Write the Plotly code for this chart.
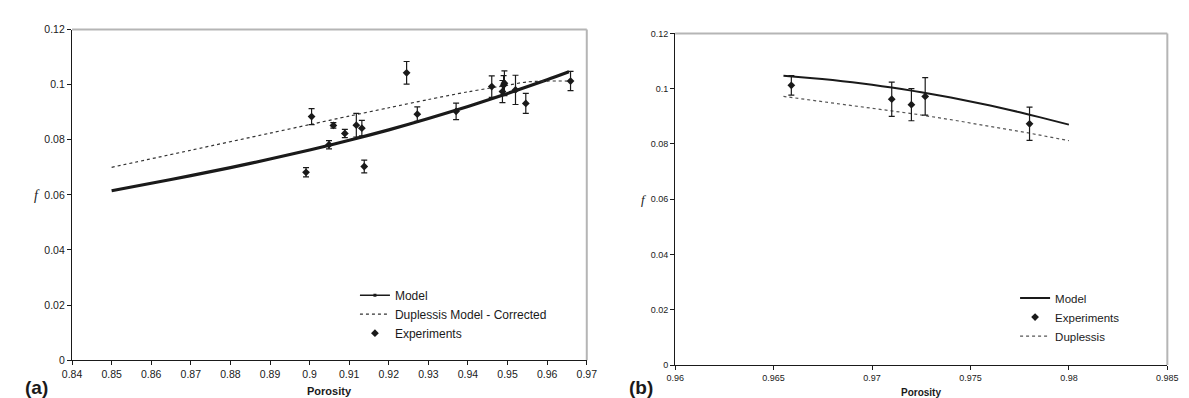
import plotly.graph_objects as go

# ---------------- data: panel (a) ----------------
a_model_x = [0.85, 0.86, 0.87, 0.88, 0.89, 0.90, 0.91, 0.92, 0.93, 0.94, 0.95, 0.96, 0.9655]
a_model_y = [0.0615, 0.0642, 0.0670, 0.0699, 0.0730, 0.0763, 0.0798, 0.0836, 0.0877, 0.0921, 0.0968, 0.1018, 0.1047]

a_dup_x = [0.85, 0.87, 0.89, 0.90, 0.91, 0.92, 0.93, 0.94, 0.95, 0.955, 0.96, 0.966]
a_dup_y = [0.0700, 0.0762, 0.0824, 0.0855, 0.0886, 0.0916, 0.0946, 0.0974, 0.0998, 0.1010, 0.1013, 0.1013]

a_exp_x = [0.8991, 0.9005, 0.9049, 0.9060, 0.9089, 0.9118, 0.9132, 0.9138, 0.9245,
           0.9272, 0.9370, 0.9460, 0.9487, 0.9490, 0.9492, 0.9520, 0.9546, 0.9659]
a_exp_y = [0.0682, 0.0884, 0.0782, 0.0852, 0.0823, 0.0853, 0.0842, 0.0703, 0.1043,
           0.0893, 0.0903, 0.0993, 0.0975, 0.0998, 0.1005, 0.0981, 0.0932, 0.1013]
a_exp_err = [0.0017, 0.0029, 0.0015, 0.0010, 0.0015, 0.0043, 0.0028, 0.0023, 0.0041,
             0.0026, 0.0030, 0.0039, 0.0040, 0.0035, 0.0045, 0.0053, 0.0036, 0.0035]

# ---------------- data: panel (b) ----------------
b_model_x = [0.9655, 0.967, 0.968, 0.969, 0.970, 0.971, 0.972, 0.973, 0.974, 0.975,
             0.976, 0.977, 0.978, 0.979, 0.980]
b_model_y = [0.1047, 0.1038, 0.1031, 0.1023, 0.1014, 0.1004, 0.0993, 0.0981, 0.0968, 0.0954,
             0.0939, 0.0923, 0.0906, 0.0888, 0.0870]

b_dup_x = [0.9655, 0.968, 0.970, 0.972, 0.974, 0.976, 0.978, 0.980]
b_dup_y = [0.0972, 0.0948, 0.0929, 0.0910, 0.0888, 0.0864, 0.0839, 0.0812]

b_exp_x = [0.9659, 0.9710, 0.9720, 0.9727, 0.9780]
b_exp_y = [0.1012, 0.0962, 0.0942, 0.0972, 0.0873]
b_exp_err = [0.0035, 0.0062, 0.0058, 0.0068, 0.0060]

# ---------------- ticks ----------------
a_xticks = [0.84, 0.85, 0.86, 0.87, 0.88, 0.89, 0.90, 0.91, 0.92, 0.93, 0.94, 0.95, 0.96, 0.97]
a_xtext = ["0.84", "0.85", "0.86", "0.87", "0.88", "0.89", "0.9", "0.91", "0.92", "0.93", "0.94", "0.95", "0.96", "0.97"]
b_xticks = [0.96, 0.965, 0.97, 0.975, 0.98, 0.985]
b_xtext = ["0.96", "0.965", "0.97", "0.975", "0.98", "0.985"]
yticks = [0, 0.02, 0.04, 0.06, 0.08, 0.1, 0.12]
ytext = ["0", "0.02", "0.04", "0.06", "0.08", "0.1", "0.12"]

W, H = 1189, 398
FONT = "Liberation Sans, Arial, sans-serif"
BLACK = "#1a1a1a"

def px_x(p):
    return p / W

def px_y(p):
    return 1 - p / H

fig = go.Figure()

# ---- panel (a) traces ----
fig.add_trace(go.Scatter(x=a_model_x, y=a_model_y, mode="lines", xaxis="x", yaxis="y",
                         line=dict(color=BLACK, width=3.2, shape="spline", smoothing=0.8), showlegend=False))
fig.add_trace(go.Scatter(x=a_dup_x, y=a_dup_y, mode="lines", xaxis="x", yaxis="y",
                         line=dict(color="#333333", width=1.2, dash="dot", shape="spline", smoothing=0.8),
                         showlegend=False))
fig.add_trace(go.Scatter(x=a_exp_x, y=a_exp_y, mode="markers", xaxis="x", yaxis="y",
                         marker=dict(symbol="diamond", size=6, color=BLACK),
                         error_y=dict(type="data", array=a_exp_err, visible=True, color=BLACK, thickness=1.2, width=3),
                         showlegend=False))
# legend (a)
fig.add_trace(go.Scatter(x=[None], y=[None], mode="lines+markers", name="Model", legend="legend",
                         line=dict(color=BLACK, width=1.6), marker=dict(symbol="square", size=3, color=BLACK)))
fig.add_trace(go.Scatter(x=[None], y=[None], mode="lines", name="Duplessis Model - Corrected", legend="legend",
                         line=dict(color="#333333", width=1.2, dash="dot")))
fig.add_trace(go.Scatter(x=[None], y=[None], mode="markers", name="Experiments", legend="legend",
                         marker=dict(symbol="diamond", size=6, color=BLACK)))

# ---- panel (b) traces ----
fig.add_trace(go.Scatter(x=b_model_x, y=b_model_y, mode="lines", xaxis="x2", yaxis="y2",
                         line=dict(color=BLACK, width=2, shape="spline", smoothing=0.8), showlegend=False))
fig.add_trace(go.Scatter(x=b_dup_x, y=b_dup_y, mode="lines", xaxis="x2", yaxis="y2",
                         line=dict(color="#555555", width=1.2, dash="dot"), showlegend=False))
fig.add_trace(go.Scatter(x=b_exp_x, y=b_exp_y, mode="markers", xaxis="x2", yaxis="y2",
                         marker=dict(symbol="diamond", size=6, color=BLACK),
                         error_y=dict(type="data", array=b_exp_err, visible=True, color=BLACK, thickness=1.2, width=3),
                         showlegend=False))
# legend (b)
fig.add_trace(go.Scatter(x=[None], y=[None], mode="lines", name="Model", legend="legend2",
                         line=dict(color=BLACK, width=2)))
fig.add_trace(go.Scatter(x=[None], y=[None], mode="markers", name="Experiments", legend="legend2",
                         marker=dict(symbol="diamond", size=6, color=BLACK)))
fig.add_trace(go.Scatter(x=[None], y=[None], mode="lines", name="Duplessis", legend="legend2",
                         line=dict(color="#555555", width=1.2, dash="dot")))

axis_common = dict(showgrid=False, zeroline=False, showline=True, linecolor=BLACK, linewidth=1.3,
                   ticks="outside", ticklen=4, tickcolor=BLACK, tickwidth=1)

fig.update_layout(
    width=W, height=H,
    margin=dict(l=0, r=0, t=0, b=0),
    paper_bgcolor="white", plot_bgcolor="white",
    font=dict(family=FONT, color=BLACK),
    xaxis=dict(domain=[px_x(55), px_x(579)], range=[0.84, 0.97], anchor="y",
               tickvals=a_xticks, ticktext=a_xtext, tickfont=dict(size=10.5), **axis_common),
    yaxis=dict(domain=[px_y(357), px_y(16)], range=[0, 0.12], anchor="x",
               tickvals=yticks, ticktext=ytext, tickfont=dict(size=10.5), **axis_common),
    xaxis2=dict(domain=[px_x(669), px_x(1170)], range=[0.96, 0.985], anchor="y2",
                tickvals=b_xticks, ticktext=b_xtext, tickfont=dict(size=9), **axis_common),
    yaxis2=dict(domain=[px_y(362), px_y(20)], range=[0, 0.12], anchor="x2",
                tickvals=yticks, ticktext=ytext, tickfont=dict(size=9), **axis_common),
    legend=dict(x=px_x(343), y=px_y(275), xanchor="left", yanchor="top", bgcolor="rgba(0,0,0,0)",
                font=dict(size=12), itemwidth=30, tracegroupgap=0),
    legend2=dict(x=px_x(1015), y=px_y(278), xanchor="left", yanchor="top", bgcolor="rgba(0,0,0,0)",
                 font=dict(size=11.5), itemwidth=30, tracegroupgap=0),
)

# gray plot-area border (top and right)
for xr, yr in (("x domain", "y domain"), ("x2 domain", "y2 domain")):
    fig.add_shape(type="line", xref=xr, yref=yr, x0=0, x1=1, y0=1, y1=1,
                  line=dict(color="#b5b5b5", width=2), layer="below")
    fig.add_shape(type="line", xref=xr, yref=yr, x0=1, x1=1, y0=0, y1=1,
                  line=dict(color="#b5b5b5", width=2), layer="below")

ann = [
    dict(text="<b>Porosity</b>", x=px_x(317), y=px_y(389), font=dict(size=11)),
    dict(text="<b>Porosity</b>", x=px_x(919), y=px_y(390), font=dict(size=10)),
    dict(text="<b>(a)</b>", x=px_x(19), y=px_y(385), font=dict(size=19)),
    dict(text="<b>(b)</b>", x=px_x(634), y=px_y(385), font=dict(size=19)),
    dict(text="<i>f</i>", x=px_x(19), y=px_y(187), font=dict(size=14, family="Liberation Serif, Times New Roman, serif")),
    dict(text="<i>f</i>", x=px_x(637), y=px_y(191), font=dict(size=13, family="Liberation Serif, Times New Roman, serif")),
]
for a in ann:
    fig.add_annotation(xref="paper", yref="paper", showarrow=False, xanchor="center", yanchor="middle", **a)

fig.write_html("out.html")
